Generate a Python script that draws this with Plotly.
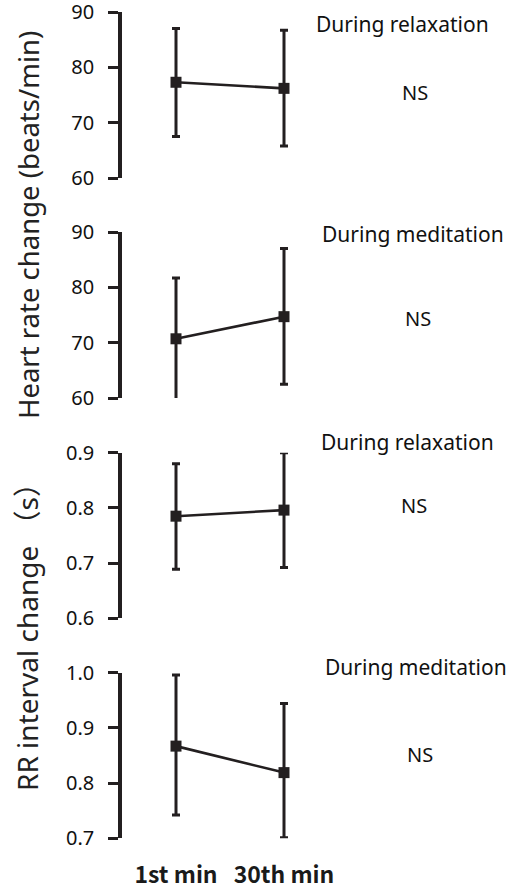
import plotly.graph_objects as go

# ---- data ----
time_labels = ["1st min", "30th min"]
x_pos = [0, 1]

hr_relax_mean = [77.3, 76.2]
hr_relax_upper = [87.0, 86.7]
hr_relax_lower = [67.5, 65.8]

hr_med_mean = [70.7, 74.7]
hr_med_upper = [81.7, 87.0]
hr_med_lower = [59.2, 62.5]

rr_relax_mean = [0.785, 0.796]
rr_relax_upper = [0.880, 0.900]
rr_relax_lower = [0.689, 0.692]

rr_med_mean = [0.867, 0.819]
rr_med_upper = [0.996, 0.944]
rr_med_lower = [0.742, 0.701]

panel_titles = ["During relaxation", "During meditation", "During relaxation", "During meditation"]
panel_stats = ["NS", "NS", "NS", "NS"]

hr_ticks = [60, 70, 80, 90]
rr_relax_ticks = [0.6, 0.7, 0.8, 0.9]
rr_med_ticks = [0.7, 0.8, 0.9, 1.0]

INK = "#231f20"
TXT = "#111111"
FONT = "Noto Sans, Noto Sans CJK JP, sans-serif"
JPFONT = "Noto Sans CJK JP, Noto Sans, sans-serif"
W, H = 509, 888

panels = [
    (hr_relax_mean, hr_relax_upper, hr_relax_lower, hr_ticks, [60, 90], ["60", "70", "80", "90"]),
    (hr_med_mean, hr_med_upper, hr_med_lower, hr_ticks, [60, 90], ["60", "70", "80", "90"]),
    (rr_relax_mean, rr_relax_upper, rr_relax_lower, rr_relax_ticks, [0.6, 0.9], ["0.6", "0.7", "0.8", "0.9"]),
    (rr_med_mean, rr_med_upper, rr_med_lower, rr_med_ticks, [0.7, 1.0], ["0.7", "0.8", "0.9", "1.0"]),
]

# pixel layout (top, bottom) of each panel's y axis
panel_px = [(12, 178), (232, 398), (452.7, 618.3), (672.7, 838.3)]
x_px = (122, 338)
title_px = [(402, 24), (412.5, 234), (407.5, 442), (416, 667)]
stat_px = [(415, 92), (418, 318), (414, 505), (420, 754)]


def px_x(v):
    return v / W


def px_y(v):
    return 1 - v / H


fig = go.Figure()
layout = dict(
    width=W, height=H, autosize=False,
    margin=dict(l=0, r=0, t=0, b=0, autoexpand=False),
    paper_bgcolor="white", plot_bgcolor="white",
    showlegend=False,
    font=dict(family=FONT, color=TXT),
)
annotations = []

for i, (mean, up, lo, ticks, rng, ttext) in enumerate(panels):
    n = i + 1
    xa = "x" if n == 1 else f"x{n}"
    ya = "y" if n == 1 else f"y{n}"
    plus = [u - m for u, m in zip(up, mean)]
    minus = [m - l for m, l in zip(mean, lo)]
    fig.add_trace(go.Scatter(
        x=x_pos, y=mean, xaxis=xa, yaxis=ya,
        mode="lines+markers",
        line=dict(color=INK, width=2.6),
        marker=dict(symbol="square", size=11, color=INK),
        error_y=dict(type="data", symmetric=False, array=plus, arrayminus=minus,
                     color=INK, thickness=3, width=4),
        cliponaxis=False,
        hoverinfo="skip",
    ))
    top, bot = panel_px[i]
    ydom = [px_y(bot), px_y(top)]
    xdom = [px_x(x_px[0]), px_x(x_px[1])]
    xkey = "xaxis" if n == 1 else f"xaxis{n}"
    ykey = "yaxis" if n == 1 else f"yaxis{n}"
    layout[xkey] = dict(
        domain=xdom, range=[-0.5, 1.5], anchor=ya,
        showline=False, showgrid=False, zeroline=False, ticks="",
        showticklabels=(n == 4), automargin=False,
        tickvals=x_pos, ticktext=time_labels,
        tickfont=dict(size=23, family=JPFONT, color="#1a1a1a", weight="bold"),
        ticklabelstandoff=21,
    )
    layout[ykey] = dict(
        domain=ydom, range=rng, anchor=xa, automargin=False,
        showline=True, linecolor=INK, linewidth=3.5,
        ticks="outside", ticklen=10, tickwidth=3, tickcolor=INK,
        tickvals=ticks, ticktext=ttext,
        tickfont=dict(size=20, family=FONT, color=TXT),
        ticklabelstandoff=10, ticklabeloverflow="allow",
        showgrid=False, zeroline=False,
    )
    tx, ty = title_px[i]
    annotations.append(dict(text=panel_titles[i], x=px_x(tx), y=px_y(ty),
                            xref="paper", yref="paper", showarrow=False,
                            xanchor="center", yanchor="middle",
                            font=dict(size=21, family=FONT, color=TXT)))
    sx, sy = stat_px[i]
    annotations.append(dict(text=panel_stats[i], x=px_x(sx), y=px_y(sy),
                            xref="paper", yref="paper", showarrow=False,
                            xanchor="center", yanchor="middle",
                            font=dict(size=20, family=FONT, color=TXT)))

annotations.append(dict(text="Heart rate change (beats/min)", x=px_x(28), y=px_y(225),
                        xref="paper", yref="paper", showarrow=False, textangle=-90,
                        xanchor="center", yanchor="middle",
                        font=dict(size=27.5, family=FONT, color="#222222")))
annotations.append(dict(text="RR interval change （s）", x=px_x(27), y=px_y(630),
                        xref="paper", yref="paper", showarrow=False, textangle=-90,
                        xanchor="center", yanchor="middle",
                        font=dict(size=28, family=FONT, color="#222222")))

layout["annotations"] = annotations
fig.update_layout(**layout)
fig.write_html("out.html", config={"displayModeBar": False},
               post_script="document.body.style.margin='0';document.body.style.overflow='hidden';")
